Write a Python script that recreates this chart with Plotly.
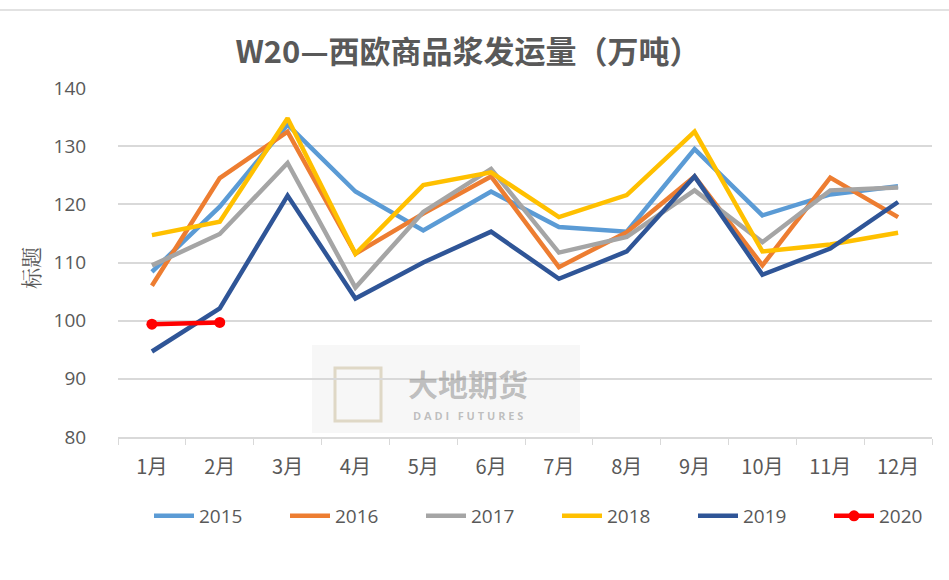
import plotly.graph_objects as go

months = ["1月", "2月", "3月", "4月", "5月", "6月", "7月", "8月", "9月", "10月", "11月", "12月"]
y2015 = [108.4, 119.6, 133.7, 122.2, 115.5, 122.2, 116.1, 115.3, 129.5, 118.1, 121.7, 123.1]
y2016 = [106.0, 124.5, 132.5, 111.5, 118.4, 124.8, 109.2, 115.2, 124.8, 109.5, 124.6, 117.8]
y2017 = [109.5, 114.9, 127.1, 105.7, 118.7, 126.1, 111.7, 114.4, 122.4, 113.5, 122.4, 122.9]
y2018 = [114.7, 117.0, 134.8, 111.5, 123.3, 125.5, 117.8, 121.6, 132.5, 111.9, 113.1, 115.1]
y2019 = [94.7, 102.1, 121.5, 103.8, 110.0, 115.3, 107.2, 111.9, 124.8, 107.9, 112.4, 120.4]
y2020 = [99.4, 99.7]

series = [
    ("2015", y2015, "#5B9BD5"),
    ("2016", y2016, "#ED7D31"),
    ("2017", y2017, "#A5A5A5"),
    ("2018", y2018, "#FFC000"),
    ("2019", y2019, "#2F5597"),
]

fig = go.Figure()
for name, vals, color in series:
    fig.add_trace(go.Scatter(x=months[:len(vals)], y=vals, name=name, mode="lines",
                             line=dict(color=color, width=4.5)))
fig.add_trace(go.Scatter(x=months[:len(y2020)], y=y2020, name="2020", mode="lines+markers",
                         line=dict(color="#FF0000", width=4.5),
                         marker=dict(color="#FF0000", size=11)))

font_main = "Open Sans, Noto Sans CJK SC, sans-serif"
PH = 349.0  # plot height px
PW = 814.0  # plot width px
fig.update_layout(
    width=949, height=580,
    paper_bgcolor="white", plot_bgcolor="rgba(0,0,0,0)",
    margin=dict(l=118, r=17, t=88, b=143, autoexpand=False),
    title=dict(text="<b>W20—西欧商品浆发运量（万吨）</b>", x=(468) / 949, xanchor="center", y=1 - 52 / 580, yanchor="middle",
               font=dict(family="Noto Sans CJK SC, sans-serif", size=31, color="#595959")),
    font=dict(family=font_main, color="#595959", size=17),
    showlegend=True,
    legend=dict(orientation="h", x=(557 - 118) / PW, xanchor="center", y=-(516 - 437) / PH, yanchor="middle",
                font=dict(size=19, color="#595959"), entrywidth=81, itemwidth=40),
    xaxis=dict(type="category", categoryorder="array", categoryarray=months, automargin=False,
               showgrid=False, showline=True, linecolor="#D9D9D9", linewidth=1.5,
               ticks="outside", tickson="boundaries", ticklen=6, tickcolor="#D9D9D9",
               ticklabelstandoff=11,
               tickfont=dict(family="Noto Sans CJK SC, sans-serif", size=20, color="#595959"),
               range=[-0.5, 11.5]),
    yaxis=dict(range=[80, 140], dtick=10, showgrid=True, gridcolor="#D9D9D9", gridwidth=1.5,
               zeroline=False, showline=False, automargin=False,
               ticks="outside", ticklen=27, tickcolor="rgba(0,0,0,0)",
               tickfont=dict(family=font_main, size=19, color="#595959")),
)

# y axis title
fig.add_annotation(text="标题", xref="paper", yref="paper", x=-(118 - 30) / PW, y=(437 - 268) / PH,
                   textangle=-90, showarrow=False, xanchor="center", yanchor="middle",
                   font=dict(family="Noto Serif CJK SC, Noto Sans CJK SC, serif", size=21, color="#595959"))

# top border line of the chart frame
fig.add_shape(type="line", xref="paper", yref="paper", x0=-0.2, x1=1.1, y0=(437 - 10) / PH, y1=(437 - 10) / PH,
              line=dict(color="#D9D9D9", width=1.5))

# faint watermark
fig.add_shape(type="rect", xref="paper", yref="paper", layer="below",
              x0=(312 - 118) / PW, x1=(580 - 118) / PW, y0=(437 - 433) / PH, y1=(437 - 345) / PH,
              line=dict(width=0), fillcolor="#F7F7F7")
fig.add_shape(type="rect", xref="paper", yref="paper", layer="below",
              x0=(335 - 118) / PW, x1=(381 - 118) / PW, y0=(437 - 421) / PH, y1=(437 - 368) / PH,
              line=dict(color="rgba(200,185,150,0.5)", width=3), fillcolor="rgba(0,0,0,0)")
fig.add_annotation(text="<b>大地期货</b>", xref="paper", yref="paper", x=(468 - 118) / PW, y=(437 - 383) / PH,
                   showarrow=False, xanchor="center", yanchor="middle",
                   font=dict(family="Noto Sans CJK SC", size=30, color="rgba(120,120,120,0.45)"))
fig.add_annotation(text="<b>D A D I   F U T U R E S</b>", xref="paper", yref="paper", x=(468 - 118) / PW,
                   y=(437 - 415) / PH, showarrow=False, xanchor="center", yanchor="middle",
                   font=dict(family="Open Sans", size=11, color="rgba(120,120,120,0.45)"))

fig.write_html("out.html", config={"displayModeBar": False},
               post_script="document.body.style.margin='0';")
